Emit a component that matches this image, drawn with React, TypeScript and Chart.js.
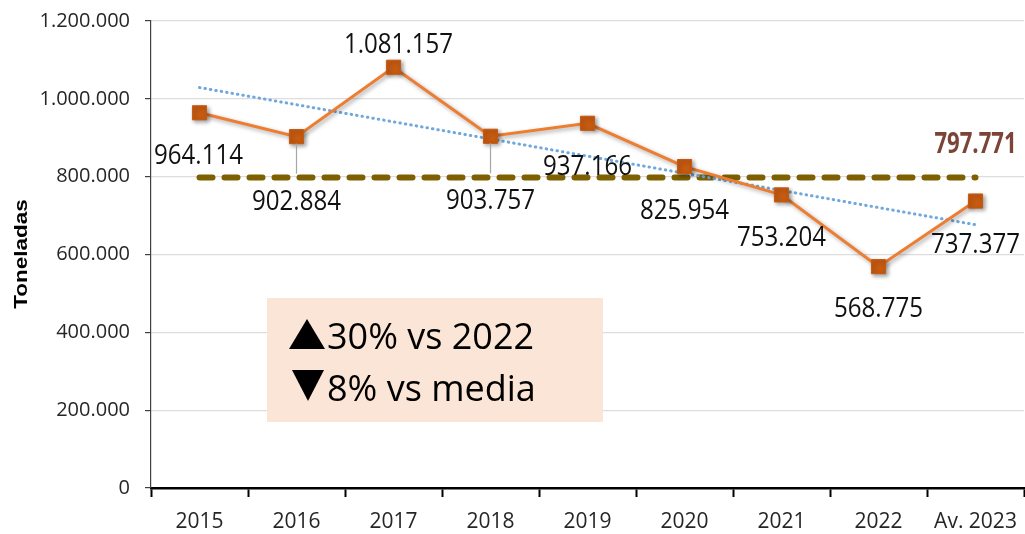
import React, { useEffect, useRef } from "react";
import { Chart, registerables } from "chart.js";

Chart.register(...registerables);

// ---- data ----
const categories = ["2015", "2016", "2017", "2018", "2019", "2020", "2021", "2022", "Av. 2023"];
const tonnes = [964114, 902884, 1081157, 903757, 937166, 825954, 753204, 568775, 737377];
const meanValue = 797771;
const trendStartValue = 1029000;
const trendEndValue = 676500;
const yMin = 0;
const yMax = 1200000;
const yStep = 200000;
const yTitle = "Toneladas";
const boxUpText = "30% vs 2022";
const boxDownText = "8% vs media";

// ---- label styling (offsets from each marker, px) ----
const labelOffsets: [number, number][] = [
  [-1, 41], [0, 63], [5, -24], [0, 63], [0, 42], [0, 42], [0, 41], [0, 40], [0, 42],
];
const leaderLines = [false, true, false, true, false, false, false, false, false];

const fmt = (v: number) => Math.round(v).toString().replace(/\B(?=(\d{3})+(?!\d))/g, ".");

const FONT = '"Open Sans", "Noto Sans", sans-serif';

function drawText(
  ctx: CanvasRenderingContext2D,
  text: string,
  x: number,
  yCenter: number,
  font: string,
  capH: number,
  scaleX: number,
  color: string,
  align: CanvasTextAlign = "center"
) {
  ctx.save();
  ctx.font = font;
  ctx.fillStyle = color;
  ctx.textAlign = align;
  ctx.textBaseline = "alphabetic";
  ctx.translate(x, yCenter + capH / 2);
  ctx.scale(scaleX, 1);
  ctx.fillText(text, 0, 0);
  ctx.restore();
}

const overlayPlugin = {
  id: "overlay",
  beforeDatasetDraw(chart: any, args: any) {
    if (args.index === 0) {
      const c = chart.ctx;
      c.save();
      c.shadowColor = "rgba(0,0,0,0.35)";
      c.shadowBlur = 4;
      c.shadowOffsetX = 2;
      c.shadowOffsetY = 2;
    }
  },
  afterDatasetDraw(chart: any, args: any) {
    if (args.index === 0) chart.ctx.restore();
  },
  beforeDatasetsDraw(chart: any) {
    const ctx = chart.ctx as CanvasRenderingContext2D;
    ctx.save();
    ctx.fillStyle = "#FBE5D6";
    ctx.fillRect(267, 298, 336, 124);
    ctx.fillStyle = "#000";
    ctx.beginPath();
    ctx.moveTo(289, 349);
    ctx.lineTo(325, 349);
    ctx.lineTo(307, 319);
    ctx.closePath();
    ctx.fill();
    ctx.beginPath();
    ctx.moveTo(292, 370);
    ctx.lineTo(324, 370);
    ctx.lineTo(308, 401);
    ctx.closePath();
    ctx.fill();
    ctx.font = `36px ${FONT}`;
    ctx.textAlign = "left";
    ctx.textBaseline = "alphabetic";
    ctx.fillText(boxUpText, 327, 349);
    ctx.fillText(boxDownText, 327, 401);
    ctx.restore();
  },
  afterDatasetsDraw(chart: any) {
    const ctx = chart.ctx as CanvasRenderingContext2D;
    const meta = chart.getDatasetMeta(0);
    meta.data.forEach((pt: any, i: number) => {
      const [dx, dy] = labelOffsets[i];
      const lx = pt.x + dx;
      const ly = pt.y + dy;
      if (leaderLines[i]) {
        ctx.save();
        ctx.strokeStyle = "#A6A6A6";
        ctx.lineWidth = 1.2;
        ctx.beginPath();
        ctx.moveTo(pt.x, pt.y + 7);
        ctx.lineTo(pt.x, ly - 26);
        ctx.stroke();
        ctx.restore();
      }
      drawText(ctx, fmt(tonnes[i]), lx, ly, `28px ${FONT}`, 20, 0.86, "#111");
    });
    const mMeta = chart.getDatasetMeta(2);
    const last = mMeta.data[mMeta.data.length - 1];
    drawText(ctx, fmt(meanValue), last.x, last.y - 35, `bold 28px ${FONT}`, 20, 0.79, "#7B4436");
  },
  afterDraw(chart: any) {
    const ctx = chart.ctx as CanvasRenderingContext2D;
    ctx.save();
    ctx.translate(27, 254);
    ctx.rotate(-Math.PI / 2);
    ctx.scale(1.25, 1);
    ctx.font = 'bold 18px "Liberation Sans", Arial, sans-serif';
    ctx.fillStyle = "#000";
    ctx.textAlign = "center";
    ctx.textBaseline = "alphabetic";
    ctx.fillText(yTitle, 0, 0);
    ctx.restore();
  },
};

export default function App() {
  const ref = useRef<HTMLCanvasElement | null>(null);

  useEffect(() => {
    if (!ref.current) return;
    const n = categories.length;
    const trendData = categories.map((_, i) => (i === 0 ? trendStartValue : i === n - 1 ? trendEndValue : null));
    const meanData = categories.map(() => meanValue);
    const chart = new Chart(ref.current, {
      type: "line",
      data: {
        labels: categories,
        datasets: [
          {
            data: tonnes,
            borderColor: "#ED7D31",
            borderWidth: 3,
            pointStyle: "rect",
            pointRadius: 10,
            pointBackgroundColor: "#C55A11",
            pointBorderColor: "#C55A11",
            pointBorderWidth: 1,
            tension: 0,
            order: 0,
          },
          {
            data: trendData,
            spanGaps: true,
            borderColor: "#6FA8DC",
            borderWidth: 3,
            borderDash: [0.5, 5],
            borderCapStyle: "round",
            pointRadius: 0,
            tension: 0,
            order: 1,
          },
          {
            data: meanData,
            borderColor: "#7F6000",
            borderWidth: 6,
            borderDash: [13, 12],
            borderCapStyle: "round",
            pointRadius: 0,
            tension: 0,
            order: 2,
          },
        ],
      } as any,
      options: {
        responsive: false,
        animation: false,
        devicePixelRatio: 1,
        layout: { autoPadding: false, padding: { top: 21, right: 1, left: 0, bottom: 0 } },
        plugins: {
          legend: { display: false },
          tooltip: { enabled: false },
        },
        scales: {
          x: {
            offset: true,
            grid: {
              offset: true,
              drawOnChartArea: false,
              drawTicks: true,
              tickLength: 9,
              tickColor: "#000",
              tickWidth: 2,
            },
            border: { display: true, color: "#000", width: 2.5 },
            ticks: {
              color: "#262626",
              font: { family: FONT, size: 21 },
              padding: 12,
              maxRotation: 0,
              autoSkip: false,
            },
            afterFit: (scale: any) => {
              scale.height = 46;
              scale.paddingLeft = 0;
              scale.paddingRight = 0;
              scale.paddingTop = 0;
              scale.paddingBottom = 0;
            },
          },
          y: {
            min: yMin,
            max: yMax,
            grid: {
              color: "#DDDDDD",
              lineWidth: 1.2,
              drawTicks: true,
              tickLength: 6,
              tickColor: "#404040",
            },
            border: { display: true, color: "#404040", width: 1.2 },
            ticks: {
              stepSize: yStep,
              color: "#262626",
              font: { family: FONT, size: 20 },
              padding: 15,
              callback: (v: any) => fmt(Number(v)),
            },
            afterFit: (scale: any) => {
              scale.width = 151;
              scale.paddingLeft = 0;
              scale.paddingRight = 0;
              scale.paddingTop = 0;
              scale.paddingBottom = 0;
            },
          },
        },
      } as any,
      plugins: [overlayPlugin],
    });
    return () => chart.destroy();
  }, []);

  return (
    <div style={{ position: "fixed", left: 0, top: 0, width: 1025, height: 534, background: "#fff" }}>
      <canvas ref={ref} width={1025} height={534} style={{ display: "block", width: 1025, height: 534 }} />
    </div>
  );
}
